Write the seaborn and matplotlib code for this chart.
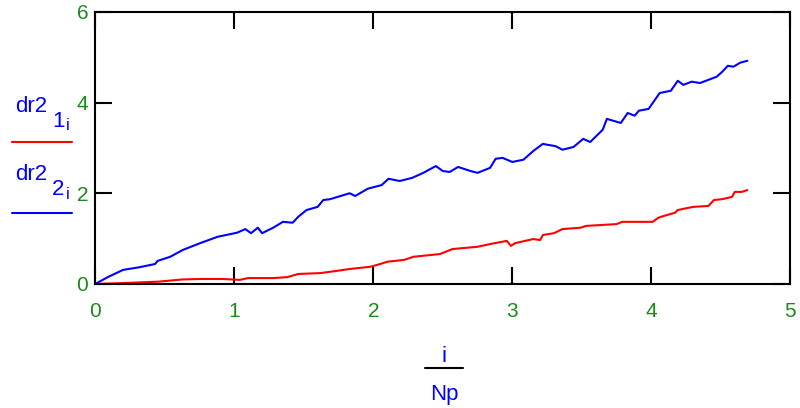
import matplotlib
matplotlib.use("Agg")
import matplotlib.pyplot as plt
import seaborn as sns
import numpy as np
import pandas as pd

# --- valores (x = i/Np) ---
x_rojo = [0.0, 0.2, 0.45, 0.63, 0.76, 0.92, 1.04, 1.1, 1.28, 1.38, 1.46, 1.62, 1.74, 1.83,
          1.98, 2.05, 2.1, 2.22, 2.29, 2.48, 2.57, 2.75, 2.84, 2.96, 2.99, 3.02, 3.15, 3.2,
          3.22, 3.3, 3.36, 3.49, 3.53, 3.75, 3.79, 4.01, 4.05, 4.09, 4.17, 4.19, 4.3, 4.41,
          4.45, 4.51, 4.58, 4.6, 4.65, 4.69]
dr2_1 = [0.0, 0.02, 0.05, 0.1, 0.11, 0.11, 0.09, 0.13, 0.13, 0.15, 0.22, 0.24, 0.29, 0.33,
         0.38, 0.44, 0.49, 0.53, 0.6, 0.66, 0.77, 0.82, 0.88, 0.95, 0.84, 0.9, 0.99, 0.97,
         1.08, 1.12, 1.21, 1.24, 1.28, 1.32, 1.37, 1.37, 1.46, 1.5, 1.57, 1.63, 1.7, 1.72,
         1.85, 1.87, 1.92, 2.03, 2.03, 2.07]

x_azul = [0.0, 0.09, 0.2, 0.32, 0.43, 0.45, 0.54, 0.63, 0.755, 0.88, 1.02, 1.08, 1.12, 1.17,
          1.2, 1.28, 1.35, 1.42, 1.46, 1.52, 1.6, 1.64, 1.69, 1.83, 1.87, 1.96, 2.06, 2.11,
          2.19, 2.28, 2.36, 2.45, 2.5, 2.55, 2.61, 2.7, 2.75, 2.84, 2.88, 2.93, 3.0, 3.08,
          3.15, 3.22, 3.25, 3.31, 3.36, 3.44, 3.51, 3.56, 3.65, 3.68, 3.78, 3.83, 3.88, 3.91,
          3.98, 4.06, 4.14, 4.19, 4.23, 4.29, 4.35, 4.47, 4.51, 4.55, 4.59, 4.64, 4.69]
dr2_2 = [0.0, 0.15, 0.31, 0.37, 0.44, 0.51, 0.6, 0.75, 0.9, 1.04, 1.13, 1.21, 1.12, 1.24,
         1.12, 1.24, 1.37, 1.35, 1.48, 1.63, 1.7, 1.85, 1.87, 2.0, 1.94, 2.1, 2.18, 2.32,
         2.27, 2.34, 2.45, 2.6, 2.49, 2.47, 2.58, 2.49, 2.45, 2.56, 2.76, 2.78, 2.69, 2.74,
         2.93, 3.09, 3.07, 3.04, 2.96, 3.02, 3.2, 3.13, 3.4, 3.64, 3.55, 3.77, 3.71, 3.82,
         3.86, 4.21, 4.26, 4.48, 4.39, 4.46, 4.43, 4.57, 4.68, 4.81, 4.79, 4.88, 4.92]

x_ticks = [0, 1, 2, 3, 4, 5]
y_ticks = [0, 2, 4, 6]

sns.set_style("ticks")
plt.rcParams['font.family'] = ['Liberation Sans', 'DejaVu Sans']

VERDE = '#1a8a1a'
AZUL = '#0000ff'
ROJO = '#ff0000'

fig = plt.figure(figsize=(8, 4.08), dpi=100)
ax = fig.add_axes([0.119, 0.304, 0.869, 0.667])

df_azul = pd.DataFrame({'x': x_azul, 'y': dr2_2})
df_rojo = pd.DataFrame({'x': x_rojo, 'y': dr2_1})
sns.lineplot(data=df_azul, x='x', y='y', ax=ax, color=AZUL, lw=1.5, estimator=None, sort=False)
sns.lineplot(data=df_rojo, x='x', y='y', ax=ax, color=ROJO, lw=1.5, estimator=None, sort=False)

ax.set_xlim(0, 5)
ax.set_ylim(0, 6)
ax.set_xticks(x_ticks)
ax.set_yticks(y_ticks)
ax.set_xticklabels([str(t) for t in x_ticks])
ax.set_yticklabels([str(t) for t in y_ticks])
ax.tick_params(direction='in', length=12, width=1.5, color='black',
               top=True, right=True, labelsize=15, labelcolor=VERDE)
ax.tick_params(axis='x', pad=13)
ax.tick_params(axis='y', pad=5)
for s in ax.spines.values():
    s.set_visible(True)
    s.set_linewidth(1.5)
    s.set_color('black')
ax.set_xlabel('')
ax.set_ylabel('')

# --- etiquetas estilo Mathcad a la izquierda ---
W, H = 800, 408
def px(x, y):
    return x / W, 1 - y / H

fig.text(*px(15, 112), 'dr2', color=AZUL, fontsize=16)
fig.text(*px(52, 127), '1', color=AZUL, fontsize=16)
fig.text(*px(66, 130), 'i', color=AZUL, fontsize=12)
fig.add_artist(plt.Line2D([12 / W, 72 / W], [1 - 142 / H] * 2, color=ROJO, lw=1.5))

fig.text(*px(15, 180), 'dr2', color=AZUL, fontsize=16)
fig.text(*px(52, 195), '2', color=AZUL, fontsize=16)
fig.text(*px(66, 199), 'i', color=AZUL, fontsize=12)
fig.add_artist(plt.Line2D([12 / W, 72 / W], [1 - 213 / H] * 2, color=AZUL, lw=1.5))

# --- etiqueta del eje x: i / Np ---
fig.text(*px(444, 362), 'i', color=AZUL, fontsize=16, ha='center')
fig.add_artist(plt.Line2D([425 / W, 463 / W], [1 - 368 / H] * 2, color='black', lw=1.5))
fig.text(*px(444, 400), 'Np', color=AZUL, fontsize=16, ha='center')

fig.savefig('out.png', dpi=100)
